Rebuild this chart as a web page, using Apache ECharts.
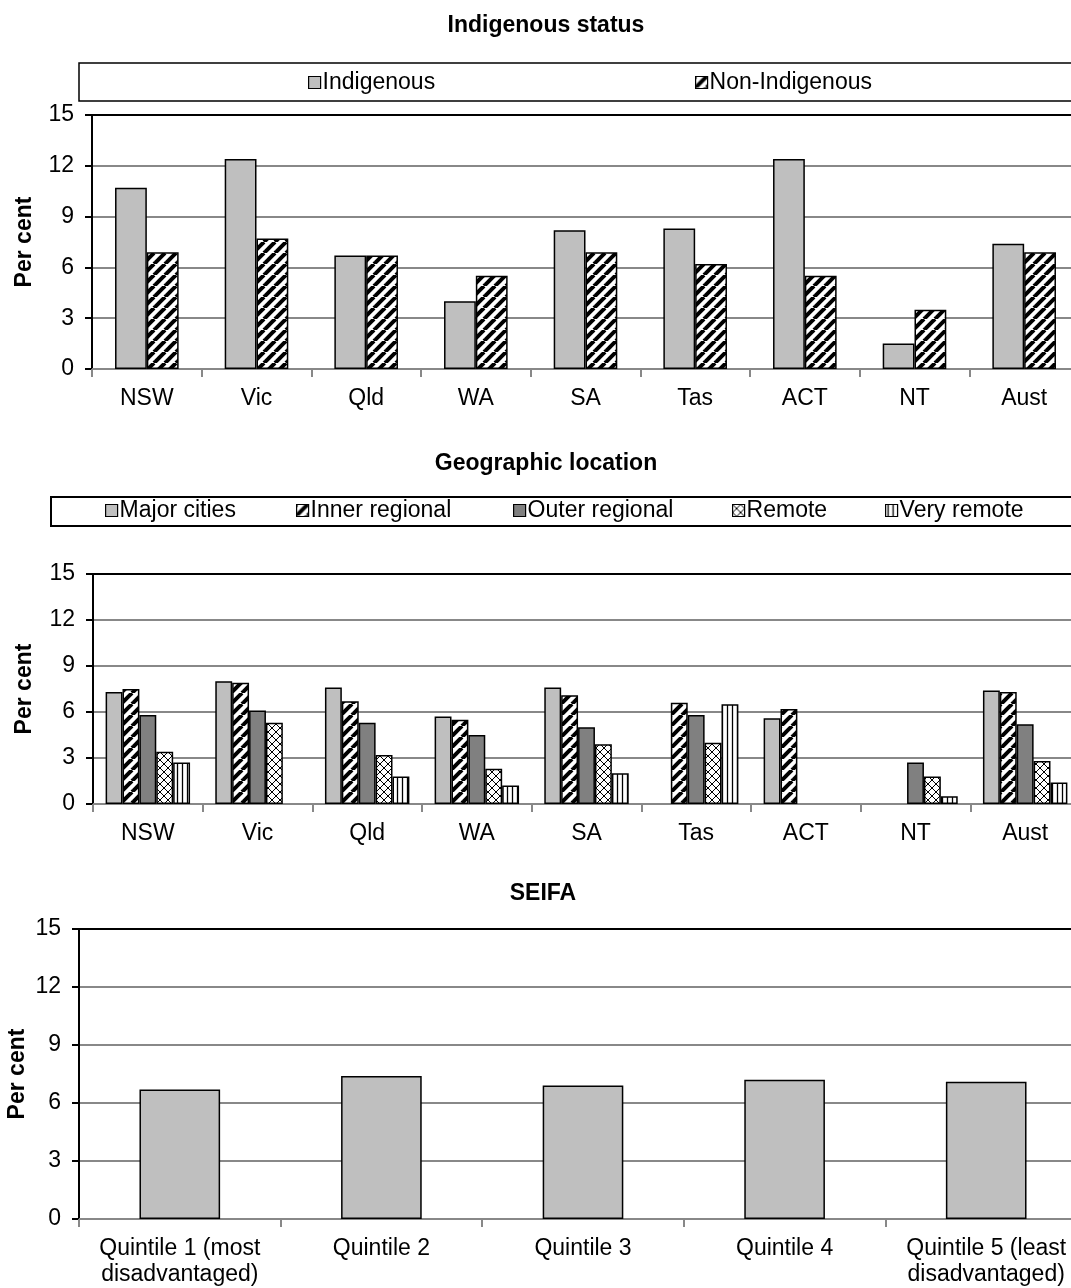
<!DOCTYPE html>
<html>
<head>
<meta charset="utf-8">
<script src="https://cdn.jsdelivr.net/npm/echarts@6/dist/echarts.min.js"></script>
<style>
html,body{margin:0;padding:0;background:#fff;overflow:hidden;}
#c{width:1100px;height:1288px;}
</style>
</head>
<body>
<div id="c"></div>
<script>
// ---- data ----
const states = ['NSW','Vic','Qld','WA','SA','Tas','ACT','NT','Aust'];
const indigenous    = [10.7, 12.4, 6.7, 4.0, 8.2, 8.3, 12.4, 1.5, 7.4];
const nonIndigenous = [6.9, 7.7, 6.7, 5.5, 6.9, 6.2, 5.5, 3.5, 6.9];

const majorCities   = [7.3, 8.0, 7.6, 5.7, 7.6, null, 5.6, null, 7.4];
const innerRegional = [7.5, 7.9, 6.7, 5.5, 7.1, 6.6, 6.2, null, 7.3];
const outerRegional = [5.8, 6.1, 5.3, 4.5, 5.0, 5.8, null, 2.7, 5.2];
const remote        = [3.4, 5.3, 3.2, 2.3, 3.9, 4.0, null, 1.8, 2.8];
const veryRemote    = [2.7, null, 1.8, 1.2, 2.0, 6.5, null, 0.5, 1.4];

const quintiles = ['Quintile 1 (most\ndisadvantaged)', 'Quintile 2', 'Quintile 3', 'Quintile 4', 'Quintile 5 (least\ndisadvantaged)'];
const seifa = [6.7, 7.4, 6.9, 7.2, 7.1];

const yTicks = [0, 3, 6, 9, 12, 15];

// ---- patterns ----
function pat(w, h, draw) {
  const c = document.createElement('canvas');
  c.width = w; c.height = h;
  const g = c.getContext('2d');
  g.fillStyle = '#fff'; g.fillRect(0, 0, w, h);
  g.strokeStyle = '#000';
  draw(g, w, h);
  return { image: c, repeat: 'repeat' };
}
const diagPat = pat(11, 11, (g, w, h) => {
  g.lineWidth = 4;
  for (let k = -1; k <= 1; k++) {
    g.beginPath(); g.moveTo(k * w, h); g.lineTo(k * w + w, 0); g.stroke();
  }
});
const crossPat = pat(8, 8, (g, w, h) => {
  g.lineWidth = 1;
  for (let k = -1; k <= 1; k++) {
    g.beginPath(); g.moveTo(k * w, h); g.lineTo(k * w + w, 0); g.stroke();
    g.beginPath(); g.moveTo(k * w, 0); g.lineTo(k * w + w, h); g.stroke();
  }
});
const vertPat = pat(5, 4, (g, w, h) => {
  g.lineWidth = 1.3;
  g.beginPath(); g.moveTo(2.5, 0); g.lineTo(2.5, h); g.stroke();
});

const FONT = 'Liberation Sans, Arial, sans-serif';
const FS = 23;
const grids = [
  { left: 92, top: 115, width: 987, height: 254, outerBoundsMode: 'none', containLabel: false },
  { left: 93, top: 574, width: 987, height: 230, outerBoundsMode: 'none', containLabel: false },
  { left: 79, top: 929, width: 1008, height: 290, outerBoundsMode: 'none', containLabel: false }
];

function xAxis(i, cats) {
  return {
    type: 'category', gridIndex: i, data: cats,
    axisLine: { lineStyle: { color: '#888', width: 2 } },
    axisTick: { show: true, interval: 0, length: 8, lineStyle: { color: '#888', width: 2 } },
    axisLabel: { interval: 0, color: '#000', fontSize: FS, fontFamily: FONT, margin: 17, lineHeight: 26 }
  };
}
function yAxis(i, gap) {
  return {
    type: 'value', gridIndex: i, min: yTicks[0], max: yTicks[yTicks.length - 1], interval: 3,
    name: 'Per cent', nameLocation: 'middle', nameGap: gap, nameRotate: 90, nameMoveOverlap: false,
    nameTextStyle: { fontSize: 23, fontWeight: 'bold', fontFamily: FONT, color: '#000' },
    axisLine: { show: true, lineStyle: { color: '#000', width: 2 } },
    axisTick: { show: true, length: 7, lineStyle: { color: '#000', width: 2 } },
    axisLabel: { color: '#000', fontSize: FS, fontFamily: FONT, margin: 18 },
    splitLine: { show: true, lineStyle: { color: ['#888', '#888', '#888', '#888', '#888', '#000'], width: 2 } }
  };
}
const border = { borderColor: '#000', borderWidth: 1.5 };
function bar(name, data, color, xi, gapPct) {
  return {
    type: 'bar', name, data, xAxisIndex: xi, yAxisIndex: xi,
    barGap: '0%', barCategoryGap: gapPct,
    itemStyle: Object.assign({ color }, border),
    emphasis: { disabled: true }, animation: false
  };
}
function legendItem(name, left, top) {
  return {
    data: [name], left, top, padding: 0, selectedMode: false,
    icon: 'rect', itemWidth: 12, itemHeight: 12,
    itemStyle: { borderColor: '#000', borderWidth: 1.2 },
    textStyle: { fontSize: FS, fontFamily: FONT, color: '#000', padding: [0, 0, 0, -3] }
  };
}
const titleStyle = { fontSize: 23, fontWeight: 'bold', fontFamily: FONT, color: '#000' };

const option = {
  animation: false,
  backgroundColor: '#fff',
  title: [
    { text: 'Indigenous status', left: 541, top: 9, textAlign: 'center', textStyle: titleStyle },
    { text: 'Geographic location', left: 541, top: 447, textAlign: 'center', textStyle: titleStyle },
    { text: 'SEIFA', left: 538, top: 877, textAlign: 'center', textStyle: titleStyle }
  ],
  graphic: [
    { type: 'rect', shape: { x: 79, y: 63, width: 1010, height: 38 }, style: { fill: 'none', stroke: '#000', lineWidth: 1.5 } },
    { type: 'rect', shape: { x: 51, y: 497, width: 1040, height: 29 }, style: { fill: 'none', stroke: '#000', lineWidth: 2 } }
  ],
  legend: [
    legendItem('Indigenous', 308, 71),
    legendItem('Non-Indigenous', 695, 71),
    legendItem('Major cities', 105, 499),
    legendItem('Inner regional', 296, 499),
    legendItem('Outer regional', 513, 499),
    legendItem('Remote', 732, 499),
    legendItem('Very remote', 885, 499)
  ],
  grid: grids,
  xAxis: [xAxis(0, states), xAxis(1, states), xAxis(2, quintiles)],
  yAxis: [yAxis(0, 56), yAxis(1, 57), yAxis(2, 50)],
  series: [
    bar('Indigenous', indigenous, '#bfbfbf', 0, '42%'),
    bar('Non-Indigenous', nonIndigenous, diagPat, 0, '42%'),
    bar('Major cities', majorCities, '#bfbfbf', 1, '23%'),
    bar('Inner regional', innerRegional, diagPat, 1, '23%'),
    bar('Outer regional', outerRegional, '#808080', 1, '23%'),
    bar('Remote', remote, crossPat, 1, '23%'),
    bar('Very remote', veryRemote, vertPat, 1, '23%'),
    bar('SEIFA', seifa, '#bfbfbf', 2, '60%')
  ]
};
const chart = echarts.init(document.getElementById('c'), null, { renderer: 'canvas' });
chart.setOption(option);
</script>
</body>
</html>
